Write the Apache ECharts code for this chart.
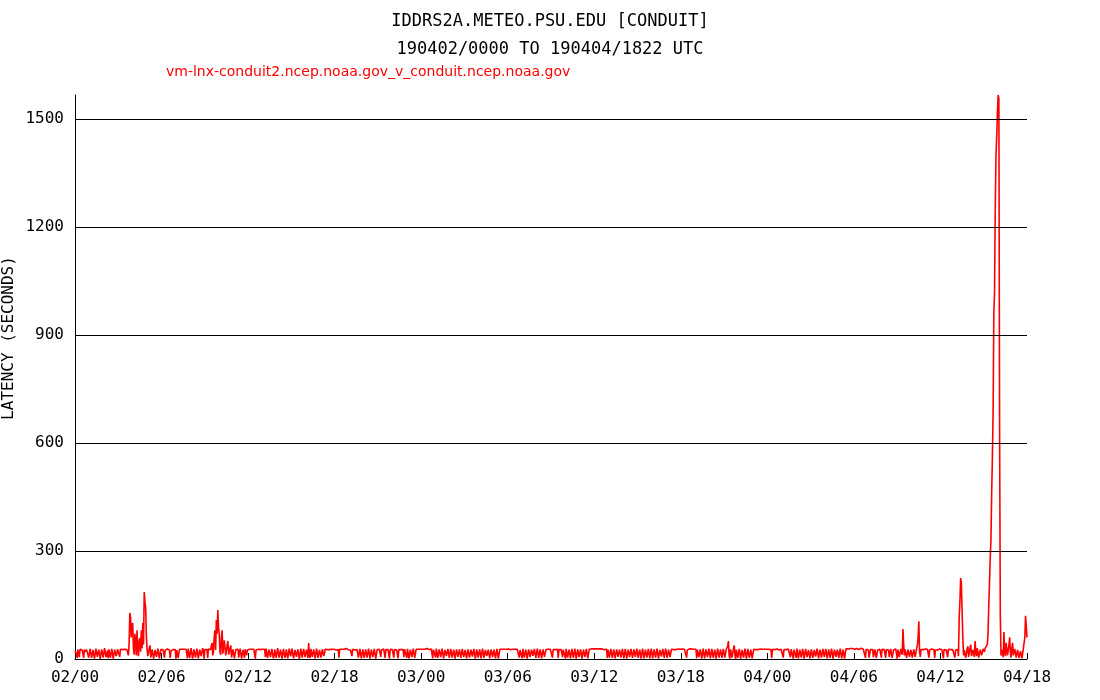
<!DOCTYPE html>
<html>
<head>
<meta charset="utf-8">
<script src="https://cdn.jsdelivr.net/npm/echarts@6/dist/echarts.min.js"></script>
<style>
html,body{margin:0;padding:0;background:#fff;}
#chart{width:1100px;height:700px;}
</style>
</head>
<body>
<div id="chart"></div>
<script>
// Latency (seconds), one value every 3 minutes (0.05 h) starting 02/00 UTC.
const STEP_HOURS = 0.05;
const latencyDay2 = [
  22,25,14,3,26,24,5,27,24,26, 25,27,3,26,20,25,26,22,12,4,
  2,28,27,3,6,25,24,1,1,29, 28,6,9,26,23,0,0,27,26,4,
  4,30,29,5,11,24,2,27,25,3, 7,28,30,1,3,26,22,8,14,27,
  25,26,6,27,27,26,26,28,28,27, 27,26,26,25,10,40,128,117,60,94,
  100,30,12,70,50,10,80,25,8,50, 58,20,80,30,100,40,186,160,142,60,
  25,8,5,30,38,4,12,27,30,1, 2,25,26,6,8,29,28,2,3,26,
  27,26,26,25,4,24,25,27,28,26, 27,25,3,22,24,26,26,27,27,26,
  1,25,26,3,5,27,23,26,27,25, 26,27,25,26,27,24,2,29,28,3,
  3,30,29,1,0,27,25,4,6,29, 28,2,2,26,27,8,9,30,24,1,
  26,27,25,26,3,28,27,25,26,30, 45,10,20,60,80,25,108,70,136,90,
  70,20,12,60,80,15,20,52,52,10, 8,40,50,12,15,30,38,4,5,27,
  28,2,3,26,25,28,27,4,6,29, 30,1,2,25,24,3,27,26,10,25,
  26,27,27,26,28,27,25,26,27,26, 1,25,26,27,27,28,28,26,26,27,
  27,26,26,27,5,29,28,3,1,26, 27,5,4,28,30,2,8,27,25,3,
  2,30,29,4,6,26,27,1,0,28, 24,3,11,27,28,2,3,29,26,7,
  7,29,30,2,1,25,23,6,5,27, 28,0,12,29,26,4,0,28,29,5,
  4,26,27,3,44,10,3,28,25,6, 9,27,28,2,1,29,30,3,6,25,
  27,4,2,27,26,8,10,27,28,27, 26,27,27,26,25,26,27,28,26,27,
  27,26,25,27,28,26,4,27,26,28, 27,26,26,27,28,27,29,28,27,26,
  26,27,24,26,8,27,27,26,25,28, 27,26,26,4,3,28,29,2,5,27,
  28,3,1,27,26,4,7,29,30,1, 2,26,24,5,9,28,27,1,0,26,
  25,26,27,28,6,25,26,27,28,27, 3,26,27,28,26,25,1,27,28,27,
  26,27,4,26,27,26,25,27,2,26, 28,27,26,28,27,26,5,27,25,26,
  3,28,29,2,0,26,27,5,8,29, 26,3,2,27,28,26,27,28,26,27
];
const latencyDay3 = [
  28,27,27,26,25,27,26,28,29,28, 27,26,26,27,28,27,2,26,27,26,
  4,29,28,3,1,27,26,5,6,29, 30,2,3,25,24,8,10,28,27,3,
  0,28,29,4,5,26,25,1,2,27, 28,6,8,27,26,3,1,28,30,5,
  6,25,24,2,0,27,28,4,3,26, 27,7,9,28,25,1,2,27,29,4,
  5,27,26,2,0,29,30,3,4,25, 27,8,11,26,23,2,1,27,28,5,
  7,26,25,2,3,28,29,1,0,27, 26,27,27,28,28,27,26,27,27,28,
  29,28,27,26,26,27,28,27,25,26, 27,28,26,27,28,27,4,25,27,26,
  2,28,29,4,6,26,25,1,0,27, 28,5,3,26,27,9,10,28,24,3,
  1,29,30,3,5,27,26,2,2,27, 28,6,7,26,25,27,27,26,26,27,
  28,27,4,26,27,26,26,28,29,27, 3,26,27,28,26,27,5,26,28,27,
  1,28,29,4,6,26,27,2,0,28, 25,3,8,29,30,1,2,27,26,5,
  4,27,28,1,0,26,27,6,9,28, 24,2,3,27,26,27,28,27,27,28,
  29,28,28,29,27,28,30,29,28,27, 27,28,29,28,26,27,28,27,3,26,
  27,4,1,28,29,3,5,27,26,2, 0,27,28,6,7,26,25,4,2,28,
  30,2,4,28,27,1,0,26,26,5, 9,28,29,3,3,27,24,5,1,29,
  28,3,6,26,27,1,2,29,30,2, 0,26,25,4,8,28,27,2,3,29,
  29,2,1,27,26,4,5,29,28,1, 0,25,24,7,10,28,27,3,2,29,
  30,3,4,26,25,5,7,27,28,27, 26,27,27,26,25,26,28,27,26,27,
  27,26,28,27,26,27,25,26,4,25, 27,28,28,27,29,28,26,27,27,26,
  25,27,2,26,28,5,6,27,27,1, 0,29,30,2,3,27,26,5,8,29,
  24,2,1,28,29,3,5,26,27,1, 0,29,28,4,9,27,25,3,2,28,
  30,4,3,27,26,35,50,10,1,27, 28,4,6,29,38,12,0,26,27,3,
  5,28,29,1,2,25,26,4,8,29, 27,1,0,28,30,3,4,26,25,2,
  1,27,28,27,26,27,27,26,25,26, 28,27,26,27,24,25,27,28,28,27
];
const latencyDay4 = [
  26,27,27,26,25,26,3,27,28,27, 26,27,29,28,27,26,25,26,26,27,
  28,27,4,26,27,26,26,28,29,28, 27,26,5,27,26,27,1,26,28,27,
  3,29,30,2,0,26,25,4,7,28, 27,1,2,28,29,5,6,25,24,2,
  0,27,28,3,4,25,26,7,9,29, 30,2,1,26,25,4,3,28,27,5,
  8,28,29,2,0,27,26,3,5,29, 28,1,2,26,27,6,10,26,25,3,
  1,29,30,2,4,26,27,1,0,28, 29,28,28,29,30,29,27,28,29,28,
  28,27,26,27,29,28,27,26,28,29, 30,28,26,27,27,26,3,27,28,27,
  25,4,2,26,27,26,26,5,6,27, 28,3,1,25,26,27,27,26,4,27,
  28,27,26,25,3,26,27,28,25,6, 5,28,29,3,2,25,26,27,28,27,
  1,26,27,5,4,28,30,12,83,40, 10,27,28,3,2,26,27,6,5,25,
  26,4,3,27,29,6,8,30,38,60, 105,20,6,26,25,27,26,27,27,28,
  25,26,27,28,4,25,26,27,28,27, 27,26,3,25,26,27,25,26,27,28,
  28,27,26,25,2,26,27,28,25,26, 5,27,28,27,26,25,27,26,25,28,
  4,25,27,28,26,8,117,160,225,210, 205,60,10,25,30,3,2,28,35,6,
  5,30,40,8,3,25,28,6,50,20, 8,30,33,4,2,26,25,10,12,28,
  25,20,30,28,35,40,72,150,211,280, 330,456,560,683,961,1022,1250,1400,1450,1520,
  1567,1556,640,120,10,25,30,5,75,20, 8,45,50,10,25,40,60,15,4,30,
  45,10,12,28,30,4,2,25,20,3, 5,22,18,2,3,30,28,60,120,90,
  60
];
const yTicks = [300, 600, 900, 1200, 1500];
const xTickHours = [0, 6, 12, 18, 24, 30, 36, 42, 48, 54, 60, 66];
const titleLine1 = 'IDDRS2A.METEO.PSU.EDU [CONDUIT]';
const titleLine2 = '190402/0000 TO 190404/1822 UTC';
const seriesName = 'vm-lnx-conduit2.ncep.noaa.gov_v_conduit.ncep.noaa.gov';
const yAxisName = 'LATENCY (SECONDS)';

const latency = latencyDay2.concat(latencyDay3, latencyDay4);
const points = latency.map((v, i) => [+(i * STEP_HOURS).toFixed(2), v]);

function hourLabel(h) {
  const day = 2 + Math.floor(h / 24);
  const hr = h % 24;
  return '0' + day + '/' + (hr < 10 ? '0' + hr : '' + hr);
}

const MONO = '"DejaVu Sans Mono", "Liberation Mono", monospace';
const chart = echarts.init(document.getElementById('chart'), null, {renderer: 'canvas'});
chart.setOption({
  animation: false,
  backgroundColor: '#ffffff',
  title: [
    {text: titleLine1, left: 'center', top: 8,
     textStyle: {fontFamily: MONO, fontSize: 17, fontWeight: 'normal', color: '#000'}},
    {text: titleLine2, left: 'center', top: 36,
     textStyle: {fontFamily: MONO, fontSize: 17, fontWeight: 'normal', color: '#000'}},
    {text: seriesName, left: 161, top: 60,
     textStyle: {fontFamily: '"DejaVu Sans", sans-serif', fontSize: 14, fontWeight: 'normal', color: '#ff0000'}}
  ],
  graphic: [{
    type: 'text', x: 9, y: 338, rotation: Math.PI / 2, silent: true,
    style: {text: yAxisName, fill: '#000', font: '16px ' + MONO, align: 'center', verticalAlign: 'middle'}
  }],
  grid: {left: 75, right: 73, top: 95, bottom: 41, containLabel: false, outerBoundsMode: 'none'},
  xAxis: {
    type: 'value', min: 0, max: 66, interval: 6,
    axisLine: {show: true, lineStyle: {color: '#000', width: 1}},
    axisTick: {show: true, inside: true, length: 6, lineStyle: {color: '#000'}},
    splitLine: {show: false},
    axisLabel: {
      margin: 11, color: '#000', fontFamily: MONO, fontSize: 16,
      formatter: v => xTickHours.indexOf(v) >= 0 ? hourLabel(v) : ''
    }
  },
  yAxis: {
    type: 'value', min: 0, max: 1567, interval: 300,
    axisLine: {show: true, lineStyle: {color: '#000', width: 1}},
    axisTick: {show: false},
    splitLine: {show: false},
    axisLabel: {
      margin: 11, color: '#000', fontFamily: MONO, fontSize: 16,
      formatter: v => (v === 0 || yTicks.indexOf(v) >= 0) ? String(v) : ''
    }
  },
  series: [
    {
      type: 'line', data: [], z: 1, silent: true,
      markLine: {
        silent: true, symbol: ['none', 'none'], animation: false,
        label: {show: false},
        lineStyle: {color: '#000', width: 1, type: 'solid'},
        data: yTicks.map(v => ({yAxis: v}))
      }
    },
    {
      name: seriesName, type: 'line', data: points, z: 3,
      showSymbol: false, symbol: 'none', silent: true,
      lineStyle: {color: '#ff0000', width: 1.6},
      itemStyle: {color: '#ff0000'}
    }
  ]
});
</script>
</body>
</html>
